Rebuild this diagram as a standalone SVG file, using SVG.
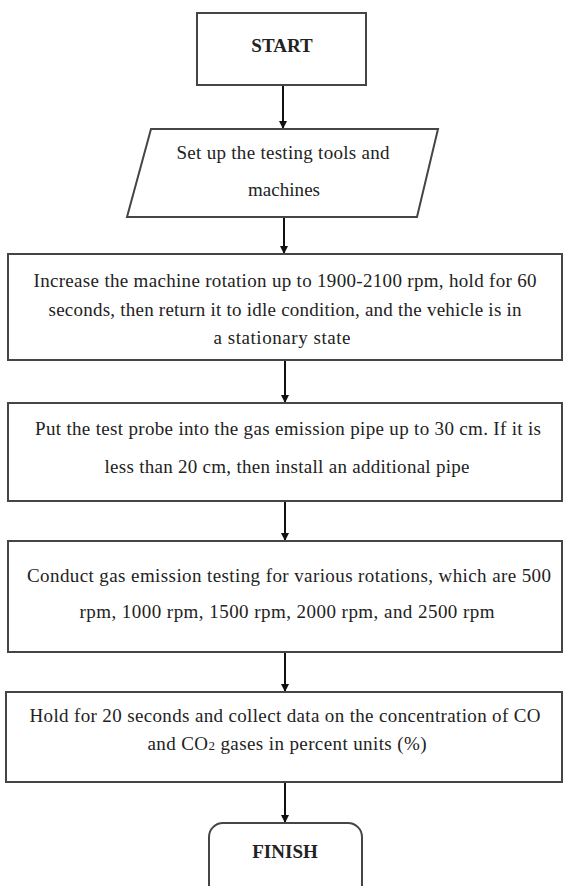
<svg xmlns="http://www.w3.org/2000/svg" width="563" height="886" viewBox="0 0 563 886">
  <style>
    .box { fill: #ffffff; stroke: #454545; stroke-width: 2; }
    .t { font-family: "Liberation Serif", serif; font-size: 19px; fill: #222; text-anchor: middle; }
    .b { font-family: "Liberation Serif", serif; font-size: 19px; font-weight: bold; fill: #222; text-anchor: middle; }
    .c { stroke: #111; stroke-width: 2; fill: none; }
  </style>
  <defs>
    <marker id="arr" viewBox="0 0 8 8" refX="8" refY="4" markerWidth="8" markerHeight="8" markerUnits="userSpaceOnUse" orient="auto">
      <path d="M0,0 L8,4 L0,8 Z" fill="#111"/>
    </marker>
  </defs>
  <rect width="563" height="886" fill="#ffffff"/>

  <g id="connectors">
    <line class="c" x1="283" y1="85" x2="283" y2="129" marker-end="url(#arr)"/>
    <line class="c" x1="284" y1="217" x2="284" y2="254" marker-end="url(#arr)"/>
    <line class="c" x1="285" y1="360" x2="285" y2="403" marker-end="url(#arr)"/>
    <line class="c" x1="285" y1="501" x2="285" y2="541" marker-end="url(#arr)"/>
    <line class="c" x1="285" y1="652" x2="285" y2="692" marker-end="url(#arr)"/>
    <line class="c" x1="285" y1="782" x2="285" y2="823" marker-end="url(#arr)"/>
  </g>

  <g id="start">
    <rect class="box" x="197" y="13" width="169" height="72"/>
    <text class="b" x="282" y="52">START</text>
  </g>

  <g id="setup">
    <polygon class="box" points="151,129 438,129 417,217 127,217"/>
    <text class="t" x="283" y="159" textLength="213" lengthAdjust="spacing">Set up the testing tools and</text>
    <text class="t" x="284" y="196" textLength="72" lengthAdjust="spacing">machines</text>
  </g>

  <g id="increase">
    <rect class="box" x="8" y="254" width="554" height="106"/>
    <text class="t" x="285" y="287" textLength="503" lengthAdjust="spacing">Increase  the machine  rotation  up to 1900-2100 rpm, hold for 60</text>
    <text class="t" x="285" y="316" textLength="473" lengthAdjust="spacing">seconds, then return it to idle condition, and the vehicle is in</text>
    <text class="t" x="282" y="344" textLength="137" lengthAdjust="spacing">a stationary  state</text>
  </g>

  <g id="probe">
    <rect class="box" x="8" y="403" width="554" height="98"/>
    <text class="t" x="288" y="435" textLength="506" lengthAdjust="spacing">Put the test probe into the gas emission pipe up to 30 cm. If it is</text>
    <text class="t" x="287" y="473" textLength="365" lengthAdjust="spacing">less than 20 cm, then install  an additional pipe</text>
  </g>

  <g id="conduct">
    <rect class="box" x="8" y="541" width="554" height="111"/>
    <text class="t" x="289" y="582" textLength="524" lengthAdjust="spacing">Conduct gas emission testing for various rotations, which are 500</text>
    <text class="t" x="287" y="618" textLength="415" lengthAdjust="spacing">rpm, 1000 rpm, 1500 rpm, 2000 rpm, and 2500 rpm</text>
  </g>

  <g id="hold">
    <rect class="box" x="6" y="692" width="556" height="90"/>
    <text class="t" x="285" y="722" textLength="511" lengthAdjust="spacing">Hold for 20 seconds and collect  data  on the concentration  of CO</text>
    <text class="t" x="287" y="750" textLength="279" lengthAdjust="spacing">and CO<tspan font-size="13">2</tspan> gases in percent  units (%)</text>
  </g>

  <g id="finish">
    <rect class="box" x="209" y="823" width="153" height="80" rx="14" ry="14"/>
    <text class="b" x="285" y="858">FINISH</text>
  </g>
</svg>
